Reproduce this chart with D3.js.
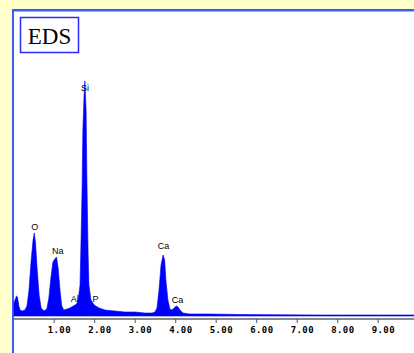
<!DOCTYPE html>
<html lang="en">
<head>
    <meta charset="utf-8">
    <title>EDS</title>
    <script type="text/javascript" src="https://cdn.jsdelivr.net/npm/d3@7/dist/d3.min.js"></script>
    <style>
        body {
            margin: 0;
            background: #ffffcc;
        }
        svg {
            display: block;
        }
        .tick text {
            font-family: 'DejaVu Sans Mono', monospace;
            font-weight: bold;
            font-size: 9px;
            letter-spacing: 0.4px;
            fill: #000;
        }
        .elem {
            font-family: 'Liberation Sans', Arial, sans-serif;
            font-size: 9px;
            fill: #000;
        }
    </style>
</head>
<body>
    <svg width="414" height="353"></svg>

    <script type="text/javascript">
        // 能谱 (keV, counts)
        var energy = [0.02, 0.044, 0.08, 0.106, 0.14, 0.17, 0.22, 0.29, 0.34, 0.39, 0.44, 0.49, 0.52, 0.55, 0.59, 0.64, 0.69, 0.76,
            0.83, 0.88, 0.93, 0.98, 1.03, 1.07, 1.11, 1.16, 1.20, 1.25, 1.33, 1.40, 1.48, 1.53, 1.58, 1.61, 1.65, 1.67, 1.70,
            1.72, 1.75, 1.77, 1.80, 1.82, 1.85, 1.87, 1.92, 2.00, 2.04, 2.12, 2.27, 2.51, 2.76, 3.01, 3.25, 3.43, 3.50, 3.55,
            3.60, 3.65, 3.70, 3.74, 3.77, 3.82, 3.87, 3.92, 3.97, 4.03, 4.07, 4.12, 4.19, 4.36, 4.85, 5.60, 6.59, 7.58, 9.95];
        var counts = [13, 16, 20, 19, 10, 6, 5, 6, 10, 26, 54, 76, 83, 74, 48, 21, 8, 5,
            7, 18, 38, 54, 57, 59, 48, 24, 10, 6, 7, 8, 10, 11, 13, 18, 31, 66, 126,
            186, 221, 235, 206, 136, 61, 31, 16, 11, 10, 8, 6, 5, 4, 4, 3, 3, 4, 8,
            26, 51, 61, 56, 36, 16, 7, 6, 8, 10, 9, 6, 3, 2, 2, 1.5, 1.2, 1, 1];

        // 元素标注
        var elements = ["O", "Na", "Al", "Si", "P", "Ca", "Ca"];
        var elementEnergy = [0.53, 1.10, 1.52, 1.77, 2.03, 3.71, 4.06];
        var elementCounts = [86, 62, 14, 225, 14, 67, 13];

        var tickValues = [1, 2, 3, 4, 5, 6, 7, 8, 9];

        var svg = d3.select("svg");
        var W = 414, H = 353;

        // 白色面板
        svg.append("rect").attr("x", 13).attr("y", 10).attr("width", W - 13).attr("height", H - 10).attr("fill", "#fff");
        svg.append("line").attr("x1", 12).attr("x2", W).attr("y1", 10).attr("y2", 10)
            .attr("stroke", "#3a5cff").attr("stroke-width", 2);
        svg.append("line").attr("x1", 13).attr("x2", 13).attr("y1", 9).attr("y2", H)
            .attr("stroke", "#3a5cff").attr("stroke-width", 2);
        svg.append("line").attr("x1", 14).attr("x2", W).attr("y1", 11.5).attr("y2", 11.5)
            .attr("stroke", "#9fb2ff").attr("stroke-width", 1);

        var x = d3.scaleLinear().domain([0, 10]).range([13.2, 418.2]);
        var y = d3.scaleLinear().domain([0, 250]).range([316, 66]);

        var pts = energy.map(function (e, i) { return [e, counts[i]]; });
        var area = d3.area()
            .x(function (d) { return x(d[0]); })
            .y0(y(0))
            .y1(function (d) { return y(d[1]); });

        svg.append("path")
            .datum(pts)
            .attr("d", area)
            .attr("fill", "#0000ff")
            .attr("stroke", "#0000ff")
            .attr("stroke-width", 0.6);

        // 坐标轴
        var axis = d3.axisBottom(x)
            .tickValues(tickValues)
            .tickSize(4)
            .tickSizeOuter(0)
            .tickFormat(d3.format(".2f"));
        var g = svg.append("g").attr("transform", "translate(0,319)").call(axis);
        g.select(".domain").attr("stroke", "#8a8a8a").attr("stroke-width", 2)
            .attr("d", "M14,0H" + W);
        g.selectAll(".tick line").attr("stroke", "#555");
        g.selectAll(".tick text")
            .attr("text-anchor", "start")
            .attr("x", -6.5)
            .attr("y", 13.5)
            .attr("dy", null);

        // 元素标签
        svg.selectAll("text.elem")
            .data(elements)
            .enter()
            .append("text")
            .attr("class", "elem")
            .attr("text-anchor", "middle")
            .attr("x", function (d, i) { return x(elementEnergy[i]); })
            .attr("y", function (d, i) { return y(elementCounts[i]); })
            .text(function (d) { return d; });

        // EDS 标题框
        svg.append("rect").attr("x", 20.5).attr("y", 17.5).attr("width", 58).attr("height", 35)
            .attr("fill", "#fff").attr("stroke", "#2b2bff").attr("stroke-width", 1.5);
        svg.append("text").attr("x", 49.5).attr("y", 44)
            .attr("text-anchor", "middle")
            .style("font-family", "'Liberation Serif', 'Times New Roman', serif")
            .style("font-size", "23px")
            .text("EDS");
    </script>
</body>
</html>
